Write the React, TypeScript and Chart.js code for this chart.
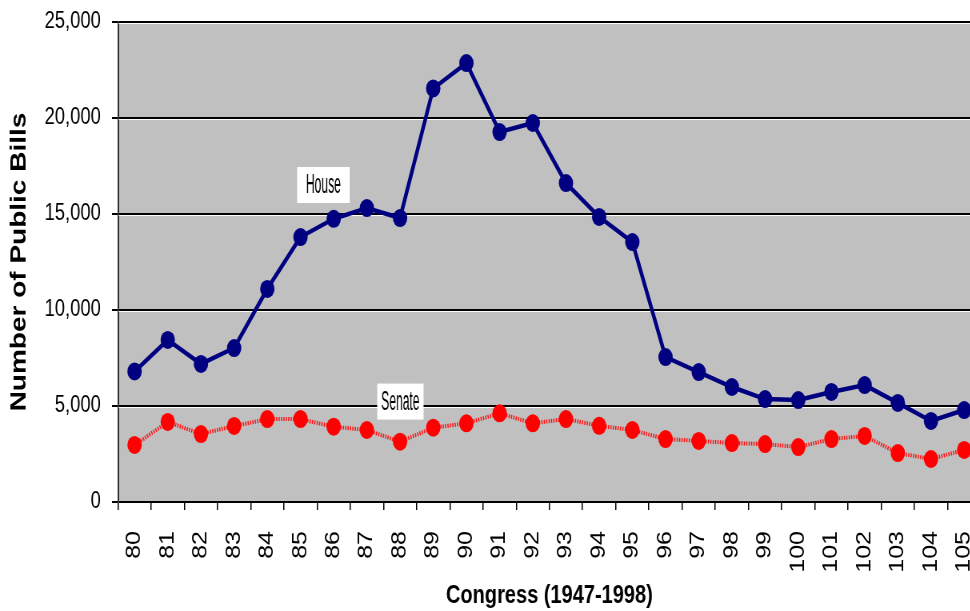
import React, { useEffect, useRef } from 'react';
import { Chart, registerables } from 'chart.js';

Chart.register(...registerables);

// ---- Data ----
const congresses = ['80', '81', '82', '83', '84', '85', '86', '87', '88', '89', '90', '91', '92', '93', '94', '95', '96', '97', '98', '99', '100', '101', '102', '103', '104', '105'];
const houseBills = [6800, 8440, 7190, 8020, 11100, 13800, 14750, 15310, 14790, 21540, 22860, 19270, 19740, 16610, 14850, 13540, 7550, 6770, 5990, 5360, 5310, 5730, 6090, 5160, 4220, 4790];
const senateBills = [2970, 4170, 3540, 3960, 4320, 4320, 3920, 3750, 3140, 3870, 4100, 4620, 4100, 4320, 3970, 3750, 3280, 3180, 3070, 3020, 2860, 3280, 3440, 2550, 2240, 2710];
const yMin = 0;
const yMax = 25000;
const yStep = 5000;
const seriesLabels = ['House', 'Senate'];
const labelIndex = [5.69, 8.01];
const labelValue = [16510, 5230];
const xTitle = 'Congress (1947-1998)';
const yTitle = 'Number of Public Bills';

// ---- Layout (internal canvas units; canvas is displayed squeezed horizontally) ----
const INTERNAL_W = 1250;
const DISPLAY_W = 1000;
const H = 611;
const FONT = '"Liberation Sans", Arial, sans-serif';

const bgPlugin = {
  id: 'plotBg',
  beforeDraw(chart: any) {
    const { ctx, chartArea } = chart;
    ctx.save();
    ctx.fillStyle = '#ffffff';
    ctx.fillRect(0, 0, chart.width, chart.height);
    ctx.fillStyle = '#C0C0C0';
    ctx.fillRect(chartArea.left, chartArea.top, chartArea.right - chartArea.left, chartArea.bottom - chartArea.top);
    ctx.restore();
  },
  beforeDatasetsDraw(chart: any) {
    const { ctx, chartArea } = chart;
    const y = chart.scales.y;
    ctx.save();
    ctx.strokeStyle = '#ffffff';
    ctx.lineWidth = 1;
    y.ticks.forEach((t: any) => {
      if (t.value === yMin) return;
      const py = Math.round(y.getPixelForValue(t.value)) + 1.5;
      ctx.beginPath();
      ctx.moveTo(chartArea.left + 1, py);
      ctx.lineTo(chartArea.right, py);
      ctx.stroke();
    });
    ctx.restore();
  },
};

const labelPlugin = {
  id: 'seriesLabels',
  afterDatasetsDraw(chart: any) {
    const { ctx } = chart;
    const xs = chart.scales.x;
    const ys = chart.scales.y;
    const padX = [11, 5];
    ctx.save();
    ctx.font = `27px ${FONT}`;
    const squeeze = 0.56;
    seriesLabels.forEach((txt, i) => {
      const cx = xs.getPixelForValue(labelIndex[i]);
      const cy = ys.getPixelForValue(labelValue[i]);
      const tw = ctx.measureText(txt).width * squeeze;
      const bw = tw + padX[i] * 2;
      const bh = 36;
      ctx.fillStyle = '#ffffff';
      ctx.fillRect(cx - bw / 2, cy - bh / 2, bw, bh);
      ctx.save();
      ctx.translate(cx, cy + 1);
      ctx.scale(squeeze, 1);
      ctx.fillStyle = '#000000';
      ctx.textAlign = 'center';
      ctx.textBaseline = 'middle';
      ctx.fillText(txt, 0, 0);
      ctx.restore();
    });
    ctx.restore();
  },
};

function ChartView() {
  const ref = useRef<HTMLCanvasElement | null>(null);
  useEffect(() => {
    document.body.style.margin = '0';
    document.body.style.overflow = 'hidden';
    const canvas = ref.current!;
    const chart = new Chart(canvas, {
      type: 'line',
      data: {
        labels: congresses,
        datasets: [
          {
            label: seriesLabels[0],
            data: houseBills,
            borderColor: '#000080',
            backgroundColor: '#000080',
            borderWidth: 4.5,
            pointRadius: 9,
            pointBorderWidth: 0,
            pointBackgroundColor: '#000080',
            tension: 0,
          },
          {
            label: seriesLabels[1],
            data: senateBills,
            borderColor: '#ff1010',
            backgroundColor: '#ff0000',
            borderWidth: 4,
            borderDash: [1.5, 1.5],
            pointRadius: 9,
            pointBorderWidth: 0,
            pointBackgroundColor: '#ff0000',
            tension: 0,
          },
        ],
      },
      options: {
        animation: false,
        responsive: false,
        devicePixelRatio: 1,
        layout: { padding: { left: 0, top: 22, right: 24, bottom: 0 } },
        plugins: {
          legend: { display: false },
          tooltip: { enabled: false },
          title: { display: false },
        },
        scales: {
          x: {
            type: 'category',
            offset: true,
            afterFit: (s: any) => {
              s.height = 109;
              s.paddingLeft = 0;
              s.paddingRight = 0;
            },
            grid: {
              offset: true,
              drawOnChartArea: false,
              drawTicks: true,
              tickLength: 8,
              color: '#000000',
              lineWidth: 1.5,
            },
            border: { display: true, color: '#000000', width: 2 },
            ticks: {
              autoSkip: false,
              minRotation: 90,
              maxRotation: 90,
              padding: 21,
              color: '#000000',
              font: { family: FONT, size: 25 },
            },
            title: {
              display: true,
              text: xTitle,
              color: '#000000',
              padding: { top: 0, bottom: 0 },
              font: { family: FONT, size: 25, weight: 'bold' },
            },
          },
          y: {
            min: yMin,
            max: yMax,
            afterFit: (s: any) => {
              s.width = 147.5;
              s.paddingTop = 0;
              s.paddingBottom = 0;
            },
            grid: {
              color: '#000000',
              lineWidth: 2,
              drawTicks: true,
              tickLength: 7.5,
            },
            border: { display: true, color: '#303030', width: 2 },
            ticks: {
              stepSize: yStep,
              padding: 14,
              color: '#000000',
              font: { family: FONT, size: 23 },
            },
            title: {
              display: true,
              text: yTitle,
              color: '#000000',
              padding: { top: 7, bottom: 0 },
              font: { family: FONT, size: 28, weight: 'bold' },
            },
          },
        },
      },
      plugins: [bgPlugin, labelPlugin],
    });
    return () => chart.destroy();
  }, []);
  return (
    <div style={{ position: 'fixed', left: 0, top: 0, width: 970, height: H, overflow: 'hidden', background: '#ffffff' }}>
      <canvas
        ref={ref}
        width={INTERNAL_W}
        height={H}
        style={{ width: DISPLAY_W + 'px', height: H + 'px', display: 'block' }}
      />
    </div>
  );
}

export default function App() {
  return <ChartView />;
}
